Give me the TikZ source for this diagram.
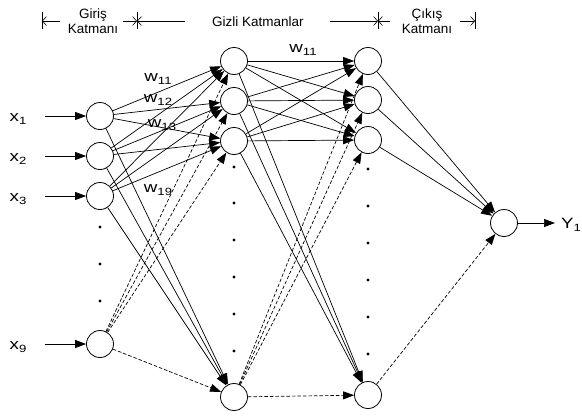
\documentclass[tikz,border=0pt]{standalone}
\usepackage{fontspec}
\usepackage{graphicx}
\setmainfont{Liberation Sans}
\usetikzlibrary{arrows.meta}
\newcommand{\symlab}[2]{\scalebox{1.25}[1]{\fontsize{15}{15}\selectfont #1\raisebox{-0.35ex}{\fontsize{10.5}{10.5}\selectfont #2}}}
\begin{document}
\begin{tikzpicture}[x=1pt,y=-1pt,
 neuron/.style={circle,draw,line width=0.8pt,minimum size=27pt,inner sep=0pt},
 conn/.style={line width=0.7pt,-{Triangle[length=11pt,width=8pt]}},
 dconn/.style={conn,dash pattern=on 3.5pt off 2pt},
 dotmark/.style={circle,fill,inner sep=0pt,minimum size=3.2pt},
 hdr/.style={font=\fontsize{13.5}{15}\selectfont,align=center,inner sep=0pt},
 dimline/.style={line width=0.6pt,-{Straight Barb[length=4pt,width=9pt]}},
 barline/.style={line width=0.6pt},
 lab/.style={inner sep=0pt}]
\useasboundingbox (0,0) rectangle (582,416);

% header
\node[hdr] (hin) at (93,21) {Giriş\\Katmanı};
\node[hdr] (hhid) at (258,22) {Gizli Katmanlar};
\node[hdr] (hout) at (427,21) {Çıkış\\Katmanı};
\coordinate (d0) at (42,21); \coordinate (d0a) at (60,21);
\coordinate (d1) at (137,21); \coordinate (d1a) at (123,21); \coordinate (d1b) at (185,21);
\coordinate (d2) at (378,21); \coordinate (d2a) at (330,21); \coordinate (d2b) at (390,21);
\coordinate (d3) at (475,21); \coordinate (d3a) at (460,21);
\draw[dimline] (d0a) -- (d0);
\draw[dimline] (d1a) -- (d1);
\draw[dimline] (d1b) -- (d1);
\draw[dimline] (d2a) -- (d2);
\draw[dimline] (d2b) -- (d2);
\draw[dimline] (d3a) -- (d3);
\foreach \bx in {42,137,378,475} \draw[barline] (\bx,12) -- (\bx,29);

% neurons
\node[neuron] (i1) at (100,116) {};
\node[neuron] (i2) at (100,156) {};
\node[neuron] (i3) at (100,196) {};
\node[neuron] (i9) at (100,344) {};
\node[neuron] (a1) at (234,61) {};
\node[neuron] (a2) at (234,101) {};
\node[neuron] (a3) at (234,141) {};
\node[neuron] (a9) at (234,397) {};
\node[neuron] (b1) at (368,61) {};
\node[neuron] (b2) at (368,100) {};
\node[neuron] (b3) at (368,140) {};
\node[neuron] (b9) at (368,395) {};
\node[neuron] (o) at (504,223) {};

% dots
\foreach \yy in {227,264,301} \node[dotmark] at (100,\yy) {};
\foreach \yy in {167,203,240,277,314,351} \node[dotmark] at (234,\yy) {};
\foreach \yy in {169,206,243,280,317,354} \node[dotmark] at (368,\yy) {};

% inputs
\node[lab] (lx1) at (18,119) {\symlab{x}{1}};
\node[lab] (lx2) at (18,159) {\symlab{x}{2}};
\node[lab] (lx3) at (18,199) {\symlab{x}{3}};
\node[lab] (lx9) at (18,347) {\symlab{x}{9}};
\coordinate (s1) at (45,116);
\coordinate (s2) at (45,156);
\coordinate (s3) at (45,196);
\coordinate (s9) at (45,344);
\draw[conn] (s1) -- (i1);
\draw[conn] (s2) -- (i2);
\draw[conn] (s3) -- (i3);
\draw[conn] (s9) -- (i9);

% input -> hidden 1
\foreach \s in {i1,i2,i3} \foreach \t in {a1,a2,a3,a9} \draw[conn] (\s) -- (\t);
\foreach \t in {a1,a2,a3,a9} \draw[dconn] (i9) -- (\t);

% hidden 1 -> hidden 2
\foreach \s in {a1,a2,a3} \foreach \t in {b1,b2,b3,b9} \draw[conn] (\s) -- (\t);
\foreach \t in {b1,b2,b3,b9} \draw[dconn] (a9) -- (\t);

% hidden 2 -> output
\foreach \s in {b1,b2,b3} \draw[conn] (\s) -- (o);
\draw[dconn] (b9) -- (o);

% output
\coordinate (yend) at (555,223);
\draw[conn] (o) -- (yend);
\node[lab] (ly) at (571,225) {\symlab{Y}{1}};

% weight labels
\node[lab] (w11) at (158,79) {\symlab{w}{11}};
\node[lab] (w12) at (158,100) {\symlab{w}{12}};
\node[lab] (w13) at (162,125) {\symlab{w}{13}};
\node[lab] (w19) at (158,190) {\symlab{w}{19}};
\node[lab] (w11b) at (303,50) {\symlab{w}{11}};
\end{tikzpicture}
\end{document}
